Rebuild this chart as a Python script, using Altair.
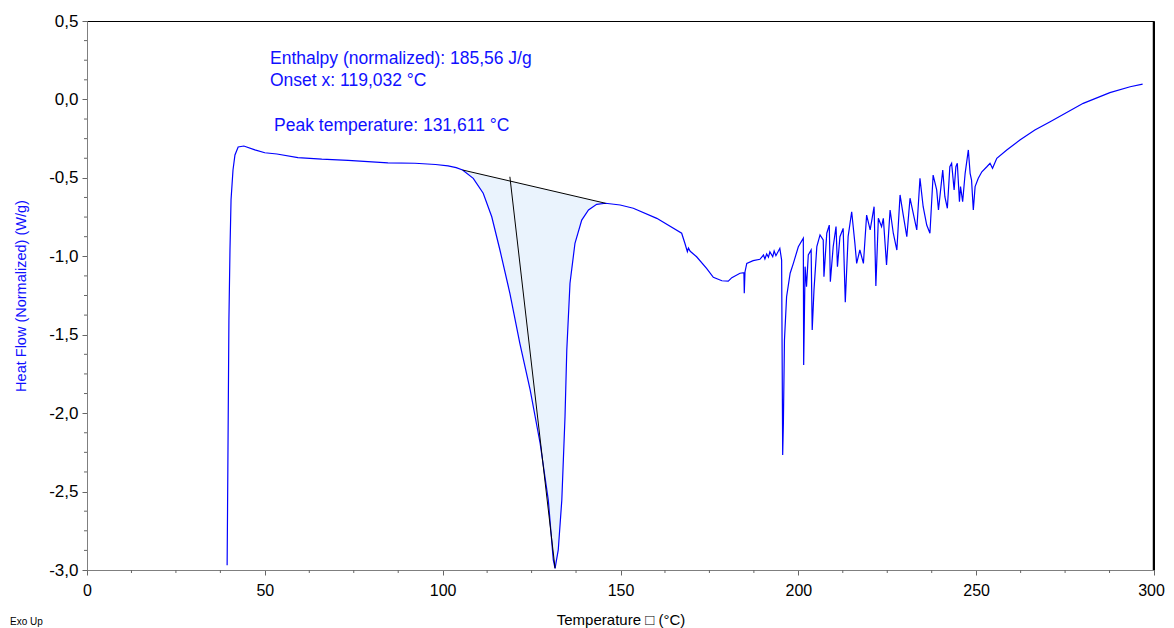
import altair as alt
import pandas as pd
import numpy as np

# --- DSC curve (Temperature °C, Heat Flow W/g) ---
temp = [39.4, 39.6, 39.9, 40.2, 40.5, 41.05, 41.6, 42.5, 44.1, 47.2, 50.0, 53.4, 59.3, 66.0, 73.4,
        84.6, 92.2, 98.0, 101.5, 103.8, 105.6, 108.6, 111.4, 113.8, 116.1, 118.9, 121.7, 124.6,
        127.4, 129.7, 131.1, 131.6, 132.5, 133.5, 134.4, 134.9, 135.8, 137.2, 139.1, 141.0, 143.3,
        145.8, 149.9, 153.6, 160.2, 167.2, 168.1, 168.8, 169.1, 169.6, 171.4, 174.2, 176.1, 178.5,
        180.3, 181.3, 183.6, 184.7, 184.8, 185.0, 185.5, 187.3, 189.2, 190.2, 190.6, 191.1, 191.6,
        192.0, 192.8, 193.2, 193.7, 194.8, 195.3, 195.6, 195.8, 196.1, 196.7, 197.7, 198.6, 200.0,
        201.4, 201.5, 201.9, 202.3, 202.8, 203.6, 203.9, 204.4, 205.2, 206.1, 207.0, 207.2, 208.0,
        208.7, 209.0, 209.8, 210.6, 211.0, 211.7, 212.6, 213.2, 214.0, 215.0, 215.9, 216.4, 217.3,
        218.3, 219.2, 220.2, 221.3, 221.8, 222.5, 223.4, 223.9, 224.8, 225.8, 226.7, 227.7, 228.6,
        229.5, 230.5, 231.4, 233.3, 234.2, 235.1, 236.1, 237.0, 237.9, 238.9, 239.4, 240.6, 241.2,
        241.9, 242.6, 243.1, 243.8, 244.3, 244.7, 245.3, 245.6, 246.2, 246.9, 247.8, 248.3, 248.7,
        249.2, 249.7, 250.6, 251.6, 253.0, 253.9, 254.6, 255.8, 258.6, 262.3, 266.5, 270.8, 280.1,
        287.6, 293.3, 296.8]
heat = [-2.97, -2.36, -1.41, -0.96, -0.64, -0.45, -0.354, -0.303, -0.297, -0.322, -0.340, -0.348,
        -0.371, -0.381, -0.388, -0.405, -0.407, -0.415, -0.424, -0.435, -0.450, -0.503, -0.598,
        -0.748, -0.960, -1.236, -1.555, -1.852, -2.192, -2.554, -2.936, -2.989, -2.872, -2.554,
        -2.023, -1.597, -1.172, -0.917, -0.769, -0.705, -0.669, -0.662, -0.673, -0.694, -0.758,
        -0.853, -0.917, -0.971, -0.948, -0.968, -1.003, -1.077, -1.134, -1.156, -1.158, -1.136,
        -1.108, -1.105, -1.236, -1.100, -1.045, -1.028, -1.019, -0.992, -1.017, -0.985, -1.006,
        -0.971, -1.003, -0.966, -0.996, -0.949, -1.024, -2.267, -2.063, -1.534, -1.258, -1.108,
        -1.045, -0.939, -0.885, -1.693, -1.066, -1.194, -0.992, -0.960, -1.470, -1.215, -0.939,
        -0.864, -0.896, -1.130, -0.853, -0.801, -1.162, -0.939, -0.811, -1.066, -0.875, -0.822,
        -1.293, -0.875, -0.716, -0.917, -1.045, -0.960, -1.045, -0.737, -0.832, -0.684, -1.189,
        -0.758, -0.811, -0.758, -1.056, -0.705, -0.853, -0.960, -0.609, -0.737, -0.875, -0.630,
        -0.832, -0.503, -0.684, -0.801, -0.853, -0.482, -0.577, -0.705, -0.450, -0.620, -0.694,
        -0.429, -0.407, -0.577, -0.429, -0.407, -0.652, -0.556, -0.652, -0.471, -0.322, -0.471,
        -0.514, -0.705, -0.556, -0.503, -0.461, -0.429, -0.407, -0.439, -0.375, -0.322, -0.259,
        -0.195, -0.142, -0.025, 0.043, 0.081, 0.098]

# integration baseline and onset tangent
base_t = [105.6, 145.8]
base_hf = [-0.450, -0.662]
onset_t = [118.9, 131.6]
onset_hf = [-0.493, -2.989]

# annotations
notes = ["Enthalpy (normalized): 185,56 J/g", "Onset x: 119,032 °C", "Peak temperature: 131,611 °C"]
notes_t = [51.45, 51.45, 52.6]
notes_hf = [0.258, 0.118, -0.169]

x_major = [0, 50, 100, 150, 200, 250, 300]
x_minor = [v for v in np.arange(0, 300.01, 12.5).tolist() if v % 50 != 0]
y_major = [-3.0, -2.5, -2.0, -1.5, -1.0, -0.5, 0.0, 0.5]
y_minor = [round(v, 3) for v in np.arange(-3.0, 0.5001, 0.125).tolist() if abs(v * 2 - round(v * 2)) > 1e-6]

W, H = 1067, 549
BLUE = "#1010ff"
FONT = "Liberation Sans"

curve = pd.DataFrame({"t": temp, "hf": heat, "i": range(len(temp))})
seg = curve[(curve.t >= base_t[0]) & (curve.t <= base_t[1])].copy()
seg["base"] = np.interp(seg.t, base_t, base_hf)

xs = alt.Scale(domain=[0, 300], nice=False, zero=False)
ys = alt.Scale(domain=[-3.0, 0.5], nice=False, zero=False)

ylab = "(datum.value < 0 ? '-' : '') + replace(format(abs(datum.value), '.1f'), '.', ',')"

area = alt.Chart(seg).mark_area(color="#eaf3fd", opacity=1).encode(
    x=alt.X("t:Q", scale=xs,
            axis=alt.Axis(values=x_major, format="d", title="Temperature \u25a1 (°C)",
                          titleFontWeight="normal", titleFontSize=15, titleColor="black",
                          titlePadding=14, titleFont=FONT,
                          labelFont=FONT, labelFontSize=16, labelColor="black", labelPadding=7,
                          labelOffset={"condition": {"test": "datum.value >= 300", "value": -3},
                                       "value": 0},
                          tickSize=5, tickColor="#666666", domainColor="#7f7f7f", grid=False,
                          labelFlush=False)),
    y=alt.Y("hf:Q", scale=ys,
            axis=alt.Axis(values=y_major, labelExpr=ylab, title="Heat Flow (Normalized)  (W/g)",
                          titleFontWeight="normal", titleFontSize=14.5, titleColor=BLUE,
                          titlePadding=20, titleFont=FONT,
                          labelFont=FONT, labelFontSize=17, labelColor="black", labelPadding=4,
                          tickSize=5, tickColor="#666666", domainColor="#7f7f7f", grid=False,
                          labelFlush=False)),
    y2="base:Q",
)

line = alt.Chart(curve).mark_line(color="#0000ff", strokeWidth=1.2).encode(
    x=alt.X("t:Q", scale=xs), y=alt.Y("hf:Q", scale=ys), order="i:Q")

base_df = pd.DataFrame({"t": base_t, "hf": base_hf})
base_line = alt.Chart(base_df).mark_line(color="black", strokeWidth=1).encode(
    x=alt.X("t:Q", scale=xs), y=alt.Y("hf:Q", scale=ys))

onset_df = pd.DataFrame({"t": onset_t, "hf": onset_hf})
onset_line = alt.Chart(onset_df).mark_line(color="black", strokeWidth=1).encode(
    x=alt.X("t:Q", scale=xs), y=alt.Y("hf:Q", scale=ys))

notes_df = pd.DataFrame({"t": notes_t, "hf": notes_hf, "txt": notes})
note_text = alt.Chart(notes_df).mark_text(align="left", baseline="middle", fontSize=17.5,
                                          font=FONT, color=BLUE).encode(
    x=alt.X("t:Q", scale=xs), y=alt.Y("hf:Q", scale=ys), text="txt:N")

xmin_df = pd.DataFrame({"v": x_minor})
x_minor_ticks = alt.Chart(xmin_df).mark_rule(color="#666666", strokeWidth=1).encode(
    x=alt.X("v:Q", scale=xs), y=alt.value(H), y2=alt.value(H + 3))

ymin_df = pd.DataFrame({"v": y_minor})
y_minor_ticks = alt.Chart(ymin_df).mark_rule(color="#666666", strokeWidth=1).encode(
    y=alt.Y("v:Q", scale=ys), x=alt.value(0), x2=alt.value(-3))

right_border = alt.Chart(pd.DataFrame({"k": [0]})).mark_rule(color="black", strokeWidth=1.5).encode(
    x=alt.value(W - 0.5), y=alt.value(0), y2=alt.value(H))

exo_df = pd.DataFrame({"txt": ["Exo Up"]})
exo = alt.Chart(exo_df).mark_text(align="left", baseline="middle", fontSize=10, font=FONT,
                                  color="black").encode(
    x=alt.value(-77), y=alt.value(H + 52), text="txt:N")

chart = alt.layer(area, line, base_line, onset_line, note_text, x_minor_ticks, y_minor_ticks,
                  right_border, exo).properties(
    width=W, height=H,
    autosize=alt.AutoSizeParams(type="none"),
    padding={"left": 79, "top": 13, "right": 12, "bottom": 58},
    background="white",
).configure_view(stroke="black", strokeWidth=1)

chart.save("out.html", embed_options={"renderer": "svg", "actions": False})
